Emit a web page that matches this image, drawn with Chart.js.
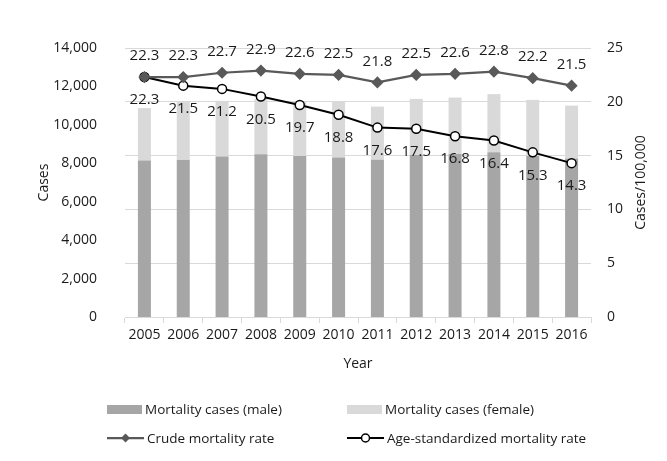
<!DOCTYPE html>
<html><head><meta charset="utf-8">
<script src="https://cdn.jsdelivr.net/npm/chart.js@4/dist/chart.umd.min.js"></script>
<style>
html,body{margin:0;padding:0;background:#fff;}
#wrap{position:relative;width:667px;height:461px;overflow:hidden;}
#c{position:absolute;left:0;top:0;}
.lg{position:absolute;font:13.5px 'Open Sans',sans-serif;color:#1a1a1a;white-space:nowrap;display:flex;align-items:center;height:20px;}
.lg .sw{display:inline-block;width:35px;height:9px;margin-right:3px;}
.lg svg{margin-right:3px;}
</style></head><body>
<div id="wrap"><canvas id="c" width="667" height="461"></canvas><div id="legend"></div></div>
<script>
const years = ['2005','2006','2007','2008','2009','2010','2011','2012','2013','2014','2015','2016'];
const maleCases = [8140, 8190, 8350, 8470, 8385, 8300, 8180, 8450, 8500, 8580, 8380, 8250];
const femaleCases = [2730, 3010, 2900, 2880, 2815, 2900, 2770, 2900, 2920, 3020, 2920, 2750];
const crudeRate = [22.3, 22.3, 22.7, 22.9, 22.6, 22.5, 21.8, 22.5, 22.6, 22.8, 22.2, 21.5];
const ageStdRate = [22.3, 21.5, 21.2, 20.5, 19.7, 18.8, 17.6, 17.5, 16.8, 16.4, 15.3, 14.3];
const casesTickMax = 14000, casesTickStep = 2000;
const rateTickMax = 25, rateTickStep = 5;

const FONT = "'Open Sans', sans-serif";
const TXT = '#1a1a1a';

const valueLabels = {
  id: 'valueLabels',
  afterDatasetsDraw(chart) {
    const ctx = chart.ctx;
    ctx.save();
    ctx.font = '15px ' + FONT;
    ctx.fillStyle = TXT;
    ctx.textAlign = 'center';
    ctx.textBaseline = 'middle';
    chart.data.datasets.forEach((ds, i) => {
      if (ds.labelOffset === undefined) return;
      const meta = chart.getDatasetMeta(i);
      meta.data.forEach((pt, j) => {
        ctx.fillText(ds.data[j].toFixed(1), pt.x, pt.y + ds.labelOffset);
      });
    });
    ctx.restore();
  }
};
const rightTitle = {
  id: 'rightTitle',
  afterDraw(chart) {
    const ctx = chart.ctx, a = chart.chartArea;
    ctx.save();
    ctx.font = '14px ' + FONT;
    ctx.fillStyle = TXT;
    ctx.textAlign = 'center';
    ctx.textBaseline = 'middle';
    ctx.translate(641, (a.top + a.bottom) / 2);
    ctx.rotate(-Math.PI / 2);
    ctx.fillText('Cases/100,000', 0, 0);
    ctx.restore();
  }
};

const datasets = [
  {type:'line', label:'Crude mortality rate', data: crudeRate, yAxisID:'y1', order:0,
   borderColor:'#595959', backgroundColor:'#595959', borderWidth:2.25,
   pointStyle:'rectRot', pointRadius:4.5, pointBackgroundColor:'#595959', pointBorderColor:'#595959',
   tension:0, labelOffset:-21},
  {type:'line', label:'Age-standardized mortality rate', data: ageStdRate, yAxisID:'y1', order:1,
   borderColor:'#000', backgroundColor:'#fff', borderWidth:2,
   pointStyle:'circle', pointRadius:4.5, pointBorderWidth:1.5, pointBackgroundColor:'#fff', pointBorderColor:'#000',
   tension:0, labelOffset:23},
  {type:'bar', label:'Mortality cases (male)', data: maleCases, yAxisID:'y', order:2,
   backgroundColor:'#a6a6a6', barPercentage:0.335, categoryPercentage:1, stack:'s'},
  {type:'bar', label:'Mortality cases (female)', data: femaleCases, yAxisID:'y', order:2,
   backgroundColor:'#d9d9d9', barPercentage:0.335, categoryPercentage:1, stack:'s'}
];

const chart = new Chart(document.getElementById('c'), {
  data: { labels: years, datasets },
  options: {
    responsive:false, animation:false,
    layout:{ padding:{ top:48, bottom:84, left:0, right:0 } },
    plugins:{ legend:{display:false}, tooltip:{enabled:false} },
    scales:{
      x:{ stacked:true, offset:true,
          grid:{ offset:true, drawOnChartArea:false, drawTicks:true, tickLength:6, color:'#d9d9d9' },
          border:{ color:'#d9d9d9' },
          ticks:{ font:{family:FONT, size:14}, color:TXT, padding:4, maxRotation:0 },
          title:{ display:true, text:'Year', font:{family:FONT, size:14}, color:TXT, padding:{top:0,bottom:5} },
          afterFit(s){ s.height = 60; } },
      y:{ stacked:true, position:'left', min:0, max:casesTickMax,
          ticks:{ stepSize:casesTickStep, font:{family:FONT, size:14}, color:TXT, padding:20,
                  callback:(v)=>v.toLocaleString('en-US') },
          grid:{ display:false }, border:{ display:false },
          title:{ display:true, text:'Cases', font:{family:FONT, size:14}, color:TXT, padding:{top:36, bottom:0} },
          afterFit(s){ s.width = 125; } },
      y1:{ position:'right', min:0, max:rateTickMax,
          ticks:{ stepSize:rateTickStep, font:{family:FONT, size:14}, color:TXT, padding:16 },
          grid:{ color:'#d9d9d9', drawTicks:false, lineWidth:1 }, border:{ display:false },
          afterFit(s){ s.width = 76; } }
    }
  },
  plugins:[valueLabels, rightTitle]
});

// HTML legend built from dataset styles
const legendPos = {
  'Mortality cases (male)': [107, 399],
  'Mortality cases (female)': [347, 399],
  'Crude mortality rate': [107, 428],
  'Age-standardized mortality rate': [347, 428]
};
const lg = document.getElementById('legend');
datasets.forEach(ds => {
  const [x, y] = legendPos[ds.label];
  const d = document.createElement('div');
  d.className = 'lg';
  d.style.left = x + 'px'; d.style.top = y + 'px';
  let mark;
  if (ds.type === 'bar') {
    mark = `<span class="sw" style="background:${ds.backgroundColor}"></span>`;
  } else if (ds.pointStyle === 'rectRot') {
    mark = `<svg width="37" height="12"><line x1="0" y1="6" x2="37" y2="6" stroke="${ds.borderColor}" stroke-width="2.25"/><polygon points="18.5,1.5 23,6 18.5,10.5 14,6" fill="${ds.pointBackgroundColor}"/></svg>`;
  } else {
    mark = `<svg width="37" height="12"><line x1="0" y1="6" x2="37" y2="6" stroke="${ds.borderColor}" stroke-width="2"/><circle cx="18.5" cy="6" r="4" fill="#fff" stroke="${ds.pointBorderColor}" stroke-width="1.5"/></svg>`;
  }
  d.innerHTML = mark + `<span>${ds.label}</span>`;
  lg.appendChild(d);
});
</script>
</body></html>
